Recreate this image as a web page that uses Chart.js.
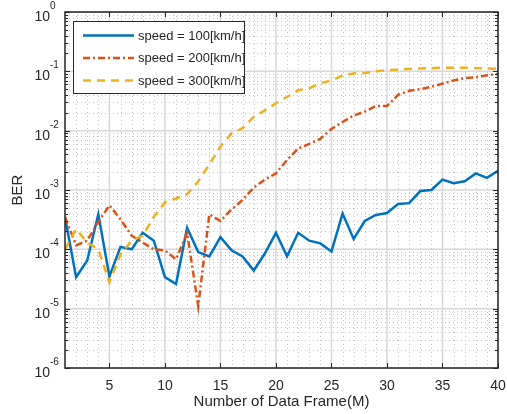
<!DOCTYPE html>
<html>
<head>
<meta charset="utf-8">
<script src="https://cdn.jsdelivr.net/npm/chart.js@4.4.0/dist/chart.umd.min.js"></script>
<style>
  html, body { margin: 0; padding: 0; background: #fff; }
</style>
</head>
<body>
<canvas id="berChart" width="507" height="414"></canvas>
<script>
// frame index (x) and BER for each speed
const frames = [1, 2, 3, 4, 5, 6, 7, 8, 9, 10, 11, 12, 13, 14, 15, 16, 17, 18, 19, 20,
  21, 22, 23, 24, 25, 26, 27, 28, 29, 30, 31, 32, 33, 34, 35, 36, 37, 38, 39, 40];

const ber100 = [3.5e-4, 3.4e-5, 6.5e-5, 3.9e-4, 3.5e-5, 1.1e-4, 1.0e-4, 1.9e-4, 1.4e-4, 3.4e-5,
  2.6e-5, 2.3e-4, 9.0e-5, 7.6e-5, 1.6e-4, 9.6e-5, 7.6e-5, 4.4e-5, 8.5e-5, 1.9e-4,
  7.6e-5, 1.9e-4, 1.4e-4, 1.26e-4, 9.2e-5, 4.0e-4, 1.5e-4, 3.0e-4, 3.8e-4, 4.1e-4,
  5.8e-4, 6.0e-4, 9.6e-4, 1.0e-3, 1.5e-3, 1.3e-3, 1.4e-3, 1.9e-3, 1.6e-3, 2.1e-3];

const ber200 = [3.5e-4, 1.17e-4, 1.4e-4, 2.9e-4, 5.5e-4, 3.2e-4, 1.7e-4, 1.3e-4, 1.0e-4, 9.6e-5,
  6.8e-5, 1.9e-4, 1.1e-5, 3.9e-4, 3.0e-4, 4.7e-4, 6.8e-4, 1.1e-3, 1.5e-3, 1.9e-3,
  3.2e-3, 5.0e-3, 6.0e-3, 7.3e-3, 1.07e-2, 1.4e-2, 1.8e-2, 2.1e-2, 2.6e-2, 2.6e-2,
  4.0e-2, 4.7e-2, 5.0e-2, 5.5e-2, 6.2e-2, 7.0e-2, 7.7e-2, 7.9e-2, 8.6e-2, 9.0e-2];

const ber300 = [1.0e-4, 2.2e-4, 1.3e-4, 1.0e-4, 2.8e-5, 8.2e-5, 1.4e-4, 1.7e-4, 3.5e-4, 6.2e-4,
  7.2e-4, 8.5e-4, 1.4e-3, 2.7e-3, 5.4e-3, 9.0e-3, 1.1e-2, 1.7e-2, 2.2e-2, 2.9e-2,
  3.7e-2, 4.8e-2, 5.2e-2, 6.3e-2, 7.0e-2, 8.5e-2, 9.2e-2, 9.4e-2, 0.100, 0.105,
  0.106, 0.110, 0.112, 0.113, 0.115, 0.115, 0.115, 0.113, 0.112, 0.110];

const seriesLabels = ["speed = 100[km/h]", "speed = 200[km/h]", "speed = 300[km/h]"];
const xTicks = [5, 10, 15, 20, 25, 30, 35, 40];
const yDecades = [-6, -5, -4, -3, -2, -1, 0];
const xLabel = "Number of Data Frame(M)";
const yLabel = "BER";

const FONT = 'Arial, "Liberation Sans", Helvetica, sans-serif';
const INK = "#262626";

function toPoints(ys) {
  return frames.map((f, i) => ({ x: f, y: ys[i] }));
}

// MATLAB-ish axes: grid, box, inward ticks, legend, log labels
const matlabAxes = {
  id: "matlabAxes",
  beforeDatasetsDraw(chart) {
    const { ctx, chartArea: a, scales: { x, y } } = chart;
    ctx.save();
    // minor grid (dotted)
    ctx.strokeStyle = "#c4c4c4";
    ctx.lineWidth = 1;
    ctx.setLineDash([1, 3]);
    ctx.beginPath();
    for (let v = frames[0] + 1; v < frames[frames.length - 1]; v++) {
      if (v % 5 === 0) continue;
      const px = Math.round(x.getPixelForValue(v)) + 0.5;
      ctx.moveTo(px, a.top);
      ctx.lineTo(px, a.bottom);
    }
    yDecades.slice(0, -1).forEach((d) => {
      for (let k = 2; k <= 9; k++) {
        const py = Math.round(y.getPixelForValue(k * Math.pow(10, d))) + 0.5;
        ctx.moveTo(a.left, py);
        ctx.lineTo(a.right, py);
      }
    });
    ctx.stroke();
    // major grid
    ctx.setLineDash([]);
    ctx.strokeStyle = "#d8d8d8";
    ctx.lineWidth = 1.5;
    ctx.beginPath();
    xTicks.forEach((v) => {
      const px = x.getPixelForValue(v);
      ctx.moveTo(px, a.top);
      ctx.lineTo(px, a.bottom);
    });
    yDecades.forEach((d) => {
      const py = y.getPixelForValue(Math.pow(10, d));
      ctx.moveTo(a.left, py);
      ctx.lineTo(a.right, py);
    });
    ctx.stroke();
    ctx.restore();
  },
  afterDatasetsDraw(chart) {
    const { ctx, chartArea: a, scales: { x, y } } = chart;
    ctx.save();
    ctx.strokeStyle = INK;
    ctx.lineWidth = 1;
    ctx.beginPath();
    // ticks on all four sides, pointing in
    xTicks.forEach((v) => {
      const px = Math.round(x.getPixelForValue(v)) + 0.5;
      ctx.moveTo(px, a.bottom); ctx.lineTo(px, a.bottom - 5);
      ctx.moveTo(px, a.top); ctx.lineTo(px, a.top + 5);
    });
    yDecades.forEach((d, i) => {
      const py = Math.round(y.getPixelForValue(Math.pow(10, d))) + 0.5;
      ctx.moveTo(a.left, py); ctx.lineTo(a.left + 5, py);
      ctx.moveTo(a.right, py); ctx.lineTo(a.right - 5, py);
      if (i === yDecades.length - 1) return;
      for (let k = 2; k <= 9; k++) {
        const pm = Math.round(y.getPixelForValue(k * Math.pow(10, d))) + 0.5;
        ctx.moveTo(a.left, pm); ctx.lineTo(a.left + 3, pm);
        ctx.moveTo(a.right, pm); ctx.lineTo(a.right - 3, pm);
      }
    });
    ctx.stroke();
    // axes box
    ctx.lineWidth = 1.5;
    ctx.strokeRect(a.left, a.top, a.right - a.left, a.bottom - a.top);

    // legend
    const lx = a.left + 8, ly = a.top + 9, lw = 171, lh = 72;
    ctx.fillStyle = "#fff";
    ctx.fillRect(lx, ly, lw, lh);
    ctx.lineWidth = 1;
    ctx.strokeStyle = INK;
    ctx.strokeRect(lx + 0.5, ly + 0.5, lw, lh);
    ctx.font = "13px " + FONT;
    ctx.textBaseline = "middle";
    ctx.textAlign = "left";
    chart.data.datasets.forEach((ds, i) => {
      const ry = ly + 14.5 + i * 22.5;
      ctx.save();
      ctx.strokeStyle = ds.borderColor;
      ctx.lineWidth = ds.borderWidth;
      ctx.setLineDash(ds.borderDash || []);
      ctx.beginPath();
      ctx.moveTo(lx + 10, ry);
      ctx.lineTo(lx + 61, ry);
      ctx.stroke();
      ctx.restore();
      ctx.fillStyle = INK;
      ctx.fillText(ds.label, lx + 65, ry + 0.5);
    });
    ctx.restore();
  },
  afterDraw(chart) {
    const { ctx, chartArea: a, scales: { y } } = chart;
    ctx.save();
    ctx.fillStyle = INK;
    // y tick labels as 10^n
    yDecades.forEach((d) => {
      const py = y.getPixelForValue(Math.pow(10, d));
      ctx.textBaseline = "alphabetic";
      ctx.font = "14px " + FONT;
      ctx.textAlign = "right";
      ctx.fillText("10", a.left - 15, py + 9);
      ctx.font = "10px " + FONT;
      ctx.textAlign = "left";
      ctx.fillText(String(d), a.left - 15, py - 3);
    });
    // axis titles
    ctx.font = "15px " + FONT;
    ctx.textAlign = "center";
    ctx.textBaseline = "middle";
    ctx.fillText(xLabel, (a.left + a.right) / 2, 402);
    ctx.translate(18, (a.top + a.bottom) / 2);
    ctx.rotate(-Math.PI / 2);
    ctx.fillText(yLabel, 0, 0);
    ctx.restore();
  }
};

const ctx = document.getElementById("berChart").getContext("2d");
const berChart = new Chart(ctx, {
  type: "line",
  data: {
    datasets: [
      {
        label: seriesLabels[0],
        data: toPoints(ber100),
        borderColor: "#0072BD",
        borderWidth: 2.5,
        order: 2,
      },
      {
        label: seriesLabels[1],
        data: toPoints(ber200),
        borderColor: "#D95319",
        borderWidth: 2.5,
        borderDash: [7, 3, 2, 3],
        order: 1,
      },
      {
        label: seriesLabels[2],
        data: toPoints(ber300),
        borderColor: "#EDB120",
        borderWidth: 2.5,
        borderDash: [8, 6],
        order: 0,
      },
    ],
  },
  options: {
    responsive: false,
    animation: false,
    events: [],
    elements: {
      point: { radius: 0 },
      line: { tension: 0, fill: false, borderCapStyle: "butt" },
    },
    layout: { padding: { top: 12, right: 9, left: 0, bottom: 0 } },
    plugins: { legend: { display: false }, tooltip: { enabled: false } },
    scales: {
      x: {
        type: "linear",
        min: 1,
        max: 40,
        grid: { display: false },
        border: { display: false },
        afterBuildTicks: (s) => { s.ticks = xTicks.map((v) => ({ value: v })); },
        afterFit: (s) => { s.height = 46; s.paddingLeft = 0; s.paddingRight = 0; },
        ticks: {
          color: INK,
          font: { family: FONT, size: 14 },
          padding: 2,
          maxRotation: 0,
          autoSkip: false,
        },
      },
      y: {
        type: "logarithmic",
        min: 1e-6,
        max: 1,
        grid: { display: false },
        border: { display: false },
        ticks: { display: false },
        afterFit: (s) => { s.width = 65; },
      },
    },
  },
  plugins: [matlabAxes],
});
</script>
</body>
</html>
